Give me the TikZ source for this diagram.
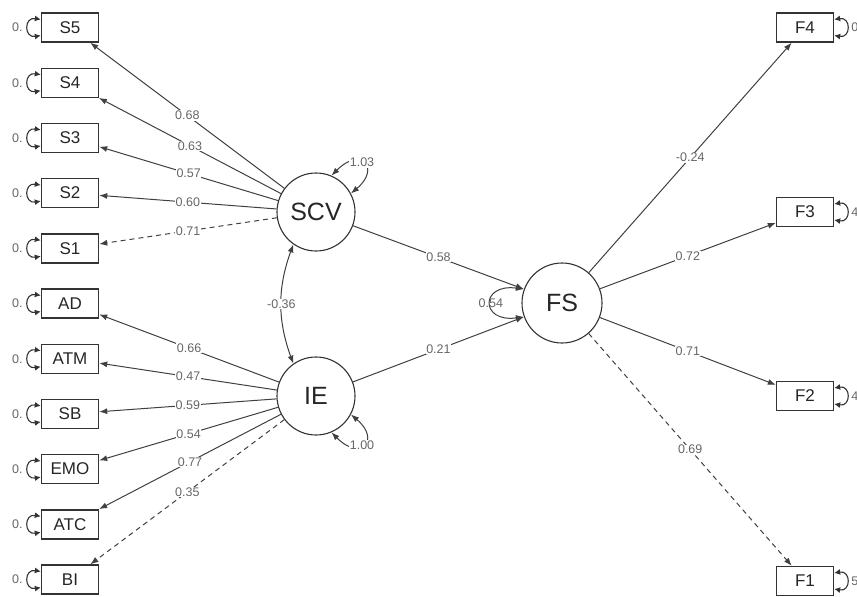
\documentclass[tikz,border=0pt]{standalone}
\usepackage{fontspec}
\setmainfont{Liberation Sans}
\usetikzlibrary{arrows.meta}
\tikzset{
  obs/.style={draw=black!80,line width=1.4pt,rectangle,minimum width=57pt,minimum height=29pt,inner sep=0pt,text=black!85,font=\fontsize{17}{17}\selectfont},
  lat/.style={draw=black!80,line width=1.1pt,circle,minimum size=78pt,inner sep=0pt,text=black!85,font=\fontsize{25}{25}\selectfont},
  lbl/.style={fill=white,inner sep=0.6pt,text=black!60,font=\fontsize{12.5}{12.5}\selectfont},
  rlbl/.style={inner sep=0pt,text=black!60,font=\fontsize{12.5}{12.5}\selectfont},
  resid/.style={draw=black!80,line width=1.1pt,{Latex[length=6pt,width=6pt]}-{Latex[length=6pt,width=6pt]}},
  both/.style={draw=black!75,line width=1pt,{Latex[length=8pt,width=6pt]}-{Latex[length=8pt,width=6pt]}},
  dsh/.style={dash pattern=on 5pt off 4pt}
}
\begin{document}
\begin{tikzpicture}[x=1pt,y=1pt]
  \useasboundingbox (0,0) rectangle (857,-597);
  \clip (0,0) rectangle (857,-597);
  \draw
    (70,-27.5) node[obs] (S5){S5}
    (70,-82.7) node[obs] (S4){S4}
    (70,-137.9) node[obs] (S3){S3}
    (70,-193.1) node[obs] (S2){S2}
    (70,-248.3) node[obs] (S1){S1}
    (70,-303.5) node[obs] (AD){AD}
    (70,-358.7) node[obs] (ATM){ATM}
    (70,-413.9) node[obs] (SB){SB}
    (70,-469.1) node[obs] (EMO){EMO}
    (70,-524.3) node[obs] (ATC){ATC}
    (70,-579.5) node[obs] (BI){BI}
    (805,-27.5) node[obs] (F4){F4}
    (805,-212) node[obs] (F3){F3}
    (805,-396) node[obs] (F2){F2}
    (805,-581) node[obs] (F1){F1}
    (316,-212) node[lat] (SCV){SCV}
    (316,-396) node[lat] (IE){IE}
    (562,-303) node[lat,minimum size=80pt] (FS){FS};
  \foreach \b in {S5,S4,S3,S2,S1,AD,ATM,SB,EMO,ATC,BI} {
    \node[rlbl,anchor=east] (r\b) at ([xshift=-18pt]\b.west) {0.};
    \draw[resid] ([yshift=8pt]\b.west) .. controls +(-17,3) and +(-17,-3) .. ([yshift=-8pt]\b.west);
  }
  \foreach \b/\v in {F4/0,F3/4,F2/4,F1/5} {
    \node[rlbl,anchor=west] (r\b) at ([xshift=17pt]\b.east) {\v};
    \draw[resid] ([yshift=8pt]\b.east) .. controls +(17,3) and +(17,-3) .. ([yshift=-8pt]\b.east);
  }
  \begin{scope}[draw=black!75,line width=1pt,-{Latex[length=8pt,width=6pt]}]
    \draw (SCV) to node[lbl]{0.68} (S5);
    \draw (SCV) to node[lbl]{0.63} (S4);
    \draw (SCV) to node[lbl]{0.57} (S3);
    \draw (SCV) to node[lbl]{0.60} (S2);
    \draw[dsh] (SCV) to node[lbl]{0.71} (S1);
    \draw (IE) to node[lbl]{0.66} (AD);
    \draw (IE) to node[lbl]{0.47} (ATM);
    \draw (IE) to node[lbl]{0.59} (SB);
    \draw (IE) to node[lbl]{0.54} (EMO);
    \draw (IE) to node[lbl]{0.77} (ATC);
    \draw[dsh] (IE) to node[lbl]{0.35} (BI);
    \draw (SCV) to node[lbl]{0.58} (FS.160);
    \draw (IE) to node[lbl]{0.21} (FS.200);
    \draw (FS) to node[lbl]{-0.24} (F4);
    \draw (FS) to node[lbl]{0.72} (F3);
    \draw (FS) to node[lbl]{0.71} (F2);
    \draw[dsh] (FS) to node[lbl]{0.69} (F1);
  \end{scope}
  \draw[both] (SCV.235) to[bend right=20] node[lbl,pos=0.5]{-0.36} (IE.125);
  \draw[both] (SCV.67) .. controls +(30,30) and +(30,25) .. node[lbl,pos=0.45]{1.03} (SCV.28);
  \draw[both] (IE.-67) .. controls +(30,-30) and +(30,-25) .. node[lbl,pos=0.45]{1.00} (IE.-28);
  \draw[both] (FS.160) .. controls +(-44,6) and +(-44,-6) .. node[lbl,pos=0.5,fill=none]{0.54} (FS.200);
\end{tikzpicture}
\end{document}
